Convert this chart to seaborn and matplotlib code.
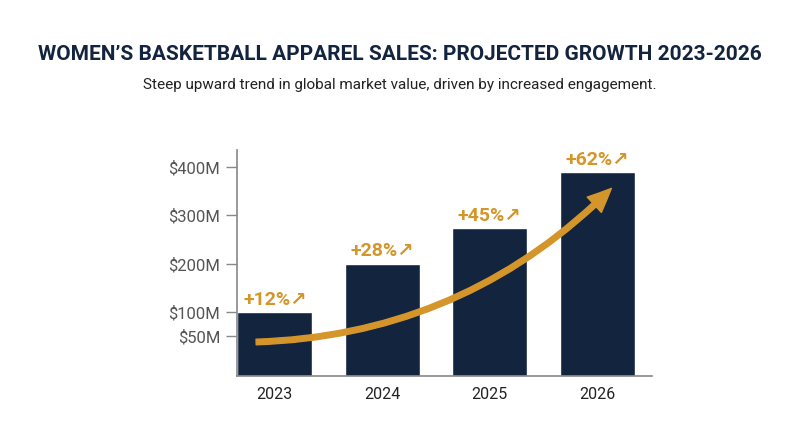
import matplotlib
matplotlib.use("Agg")
import matplotlib.pyplot as plt
import seaborn as sns
import pandas as pd
from matplotlib.patches import FancyArrowPatch

years = ["2023", "2024", "2025", "2026"]
sales = [100, 200, 273, 390]
growth = ["+12%", "+28%", "+45%", "+62%"]
tick_vals = [50, 100, 200, 300, 400]
tick_labels = ["$50M", "$100M", "$200M", "$300M", "$400M"]
base = -32

sns.set_theme(style="white")
plt.rcParams['font.family'] = ['Roboto', 'DejaVu Sans']

fig = plt.figure(figsize=(8, 4.47), dpi=100)
ax = fig.add_axes([0.296, 0.159, 0.519, 0.505])
df = pd.DataFrame({"year": years, "height": [v - base for v in sales]})
sns.barplot(data=df, x="year", y="height", color="#13243F", saturation=1,
            width=0.70, bottom=base, ax=ax)
ax.set_xlim(-0.354, 3.51)
ax.set_ylim(base, 435)
ax.set_yticks(tick_vals)
ax.set_yticklabels(tick_labels, fontsize=12, color="#555555")
ax.tick_params(axis="y", length=8, color="#888888", width=1, pad=4, left=True)
ax.tick_params(axis="x", length=0, labelsize=11.5, labelcolor="#222222", pad=8)
ax.set_xlabel(""); ax.set_ylabel("")
for s in ["top", "right"]:
    ax.spines[s].set_visible(False)
for s in ["left", "bottom"]:
    ax.spines[s].set_color("#888888")
    ax.spines[s].set_linewidth(1.2)

orange = "#D4962A"
for i, (v, g) in enumerate(zip(sales, growth)):
    ax.text(i, v + 7, g + "\u2197", ha="center", va="bottom", fontsize=14,
            fontweight="bold", color=orange, family=['Roboto', 'DejaVu Sans'])

arrow = FancyArrowPatch((-0.2, 38), (3.15, 360), connectionstyle="arc3,rad=0.2",
                        arrowstyle="simple,head_width=15,head_length=17,tail_width=4",
                        color=orange, mutation_scale=1, zorder=5)
ax.add_patch(arrow)

fig.text(0.5, 0.865, "WOMEN\u2019S BASKETBALL APPAREL SALES: PROJECTED GROWTH 2023-2026",
         ha="center", fontsize=15, fontweight="bold", color="#13243F")
fig.text(0.5, 0.80, "Steep upward trend in global market value, driven by increased engagement.",
         ha="center", fontsize=11, color="#222222")
fig.savefig("out.png", dpi=100, facecolor="white")
